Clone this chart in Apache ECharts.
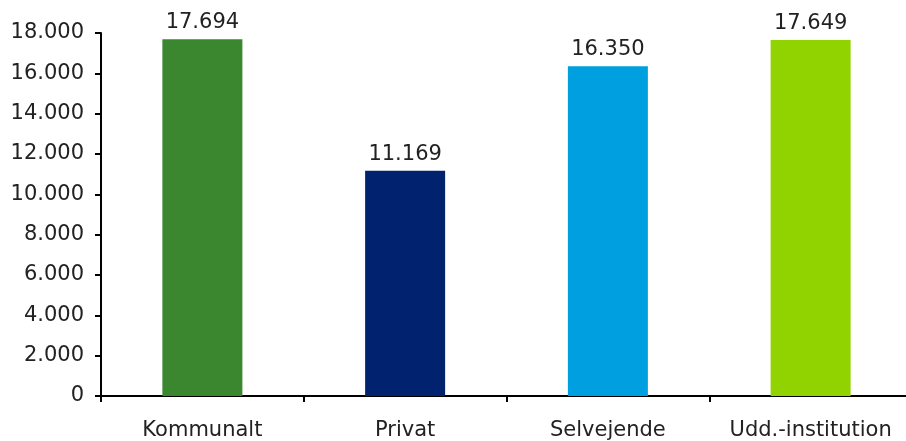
<!DOCTYPE html>
<html><head><meta charset="utf-8">
<script src="https://cdn.jsdelivr.net/npm/echarts@6/dist/echarts.min.js"></script>
<style>html,body{margin:0;padding:0;background:#fff;overflow:hidden;width:906px;height:441px}#c{width:912px;height:441px}</style>
</head><body><div id="c"></div>
<script>
var categories = ["Kommunalt", "Privat", "Selvejende", "Udd.-institution"];
var values = [17694, 11169, 16350, 17649];
var barColors = ["#3B872F", "#00226F", "#009FDF", "#91D300"];
function fmt(v){ return String(v).replace(/\B(?=(\d{3})+(?!\d))/g, "."); }
var chart = echarts.init(document.getElementById("c"));
chart.setOption({
  animation: false,
  grid: {left: 101, right: 0, top: 33, bottom: 43, containLabel: false},
  xAxis: {
    type: "category", data: categories,
    axisLine: {lineStyle: {color: "#000", width: 2}},
    axisTick: {show: true, length: 6, lineStyle: {color: "#000", width: 2}},
    axisLabel: {color: "#222", fontFamily: "DejaVu Sans", fontSize: 21, margin: 24, interval: 0, hideOverlap: false}
  },
  yAxis: {
    type: "value", min: 0, max: 18000, interval: 2000,
    axisLine: {show: true, lineStyle: {color: "#000", width: 2}},
    axisTick: {show: true, length: 6, lineStyle: {color: "#000", width: 2}},
    splitLine: {show: false},
    axisLabel: {color: "#222", fontFamily: "DejaVu Sans", fontSize: 21, margin: 17, formatter: fmt}
  },
  series: [{
    type: "bar", barWidth: 80,
    data: values.map(function(v, i){ return {value: v, itemStyle: {color: barColors[i]}}; }),
    label: {show: true, position: "top", distance: 6, color: "#222", fontFamily: "DejaVu Sans", fontSize: 21,
      formatter: function(p){ return fmt(p.value); }}
  }]
});
</script></body></html>
